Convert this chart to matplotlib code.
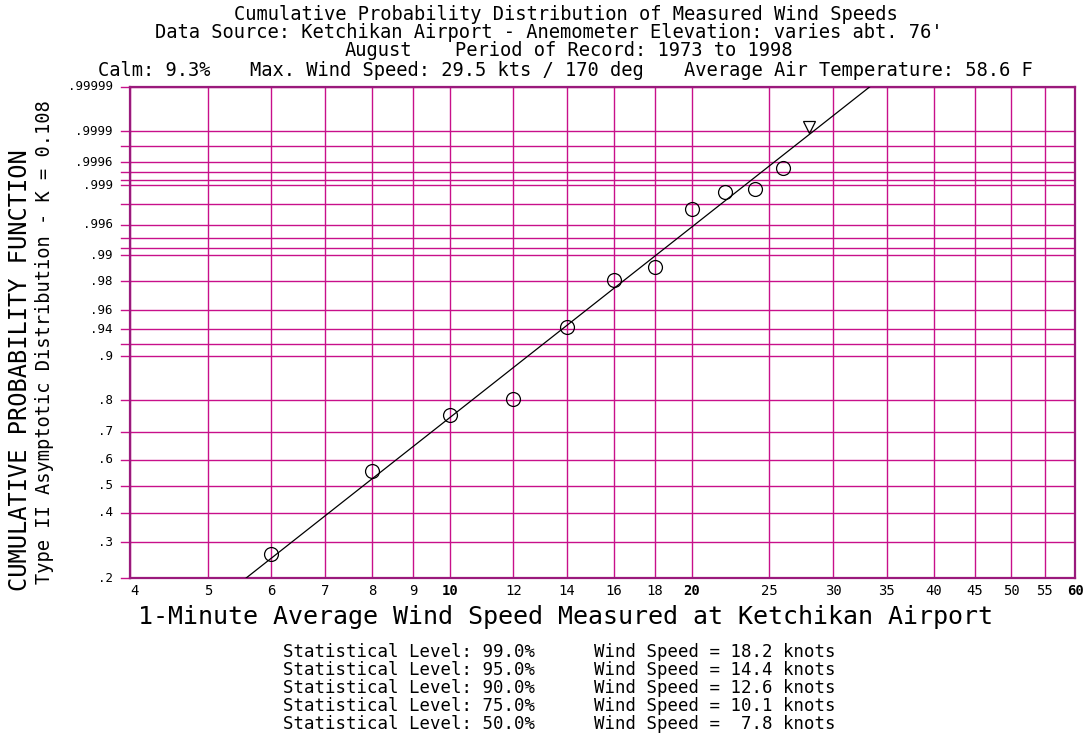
import numpy as np
import matplotlib
matplotlib.use('Agg')
import matplotlib.pyplot as plt

# observed points (wind speed in knots, plotting probability)
speeds = [6, 8, 10, 12, 14, 16, 18, 20, 22, 24, 26]
probs = [0.264, 0.556, 0.7545, 0.802, 0.9435, 0.9808, 0.9863, 0.99767, 0.99873, 0.99886, 0.9995]
# max wind point
max_speed = [28]
max_prob = [0.99992]
# fitted Type II line end points
fit_speeds = [5.58, 33.3]
fit_probs = [0.2, 0.99999]

y_labeled = [0.2, 0.3, 0.4, 0.5, 0.6, 0.7, 0.8, 0.9, 0.94, 0.96, 0.98, 0.99,
             0.996, 0.999, 0.9996, 0.9999, 0.99999]
y_labels = ['.2', '.3', '.4', '.5', '.6', '.7', '.8', '.9', '.94', '.96', '.98', '.99',
            '.996', '.999', '.9996', '.9999', '.99999']
y_extra = [0.92, 0.992, 0.994, 0.998, 0.9992, 0.9994, 0.9998]
x_ticks = [4, 5, 6, 7, 8, 9, 10, 12, 14, 16, 18, 20, 25, 30, 35, 40, 45, 50, 55, 60]

levels = ['99.0%', '95.0%', '90.0%', '75.0%', '50.0%']
level_speeds = ['18.2', '14.4', '12.6', '10.1', ' 7.8']

title_lines = [
    'Cumulative Probability Distribution of Measured Wind Speeds',
    "Data Source: Ketchikan Airport - Anemometer Elevation: varies abt. 76'",
]

GRID = '#C8108A'
FRAME = '#9A1A7C'
C = 2.3


def fwd(p):
    p = np.clip(np.asarray(p, dtype=float), 1e-9, 1 - 1e-12)
    return np.log(-np.log(-np.log(p)) + C)


def inv(t):
    t = np.asarray(t, dtype=float)
    return np.exp(-np.exp(-(np.exp(t) - C)))


plt.rcParams['font.family'] = ['DejaVu Sans Mono']

fig = plt.figure(figsize=(10.9, 7.38), dpi=100)
ax = fig.add_axes([130 / 1090, 1 - 578 / 738, 945 / 1090, 491 / 738])
ax.set_xscale('log')
ax.set_yscale('function', functions=(fwd, inv))
ax.set_xlim(4, 60)
ax.set_ylim(0.2, 0.99999)

# grid
for xv in x_ticks:
    ax.axvline(xv, color=GRID, lw=1.0, zorder=1)
for yv in y_labeled + y_extra:
    ax.axhline(yv, color=GRID, lw=1.0, zorder=1)
    ax.plot([-0.009, 0], [yv, yv], color=GRID, lw=1.0, clip_on=False,
            transform=ax.get_yaxis_transform())

ax.set_xticks(x_ticks)
ax.set_xticklabels([])
ax.xaxis.set_minor_locator(matplotlib.ticker.NullLocator())
ax.set_yticks(y_labeled)
ax.set_yticklabels([])
ax.yaxis.set_minor_locator(matplotlib.ticker.NullLocator())
ax.tick_params(length=0)

for xv in x_ticks:
    bold = xv in (10, 20, 60)
    ha = 'left' if xv == 4 else 'center'
    ax.text(xv, -0.012, str(xv), transform=ax.get_xaxis_transform(), ha=ha, va='top',
            fontsize=10, fontweight='bold' if bold else 'normal')
for yv, lab in zip(y_labeled, y_labels):
    ax.text(-0.018, yv, lab, transform=ax.get_yaxis_transform(), ha='right', va='center',
            fontsize=9)

for s in ax.spines.values():
    s.set_color(FRAME)
    s.set_linewidth(1.6)

ax.plot(fit_speeds, fit_probs, color='black', lw=0.9, zorder=3)
ax.plot(speeds, probs, 'o', ms=10, mfc='none', mec='black', mew=0.9, zorder=4)
ax.plot(max_speed, max_prob, 'v', ms=9, mfc='none', mec='black', mew=0.9, zorder=4)

# header text
hs = 13.5
fig.text(566 / 1090, 1 - 15 / 738, title_lines[0], ha='center', va='center', fontsize=hs)
fig.text(549 / 1090, 1 - 32 / 738, title_lines[1], ha='center', va='center', fontsize=hs)
fig.text(345 / 1090, 1 - 50 / 738, 'August', ha='left', va='center', fontsize=hs)
fig.text(455 / 1090, 1 - 50 / 738, 'Period of Record: 1973 to 1998', ha='left', va='center', fontsize=hs)
fig.text(98 / 1090, 1 - 70 / 738, 'Calm: 9.3%', ha='left', va='center', fontsize=hs)
fig.text(250 / 1090, 1 - 70 / 738, 'Max. Wind Speed: 29.5 kts / 170 deg', ha='left', va='center', fontsize=hs)
fig.text(1033 / 1090, 1 - 70 / 738, 'Average Air Temperature: 58.6 F', ha='right', va='center', fontsize=hs)

# axis titles
fig.text(20 / 1090, 1 - 370 / 738, 'CUMULATIVE PROBABILITY FUNCTION', rotation=90,
         ha='center', va='center', fontsize=17)
fig.text(45 / 1090, 1 - 342 / 738, 'Type II Asymptotic Distribution - K = 0.108', rotation=90,
         ha='center', va='center', fontsize=13.5)
fig.text(566 / 1090, 1 - 617 / 738, '1-Minute Average Wind Speed Measured at Ketchikan Airport',
         ha='center', va='center', fontsize=18)

# statistics table
for i, (lev, spd) in enumerate(zip(levels, level_speeds)):
    yy = 1 - (652 + 18 * i) / 738
    fig.text(283 / 1090, yy, 'Statistical Level: ' + lev, ha='left', va='center', fontsize=12.5)
    fig.text(594 / 1090, yy, 'Wind Speed = ' + spd + ' knots', ha='left', va='center', fontsize=12.5)

fig.savefig('out.png', dpi=100, facecolor='white')
